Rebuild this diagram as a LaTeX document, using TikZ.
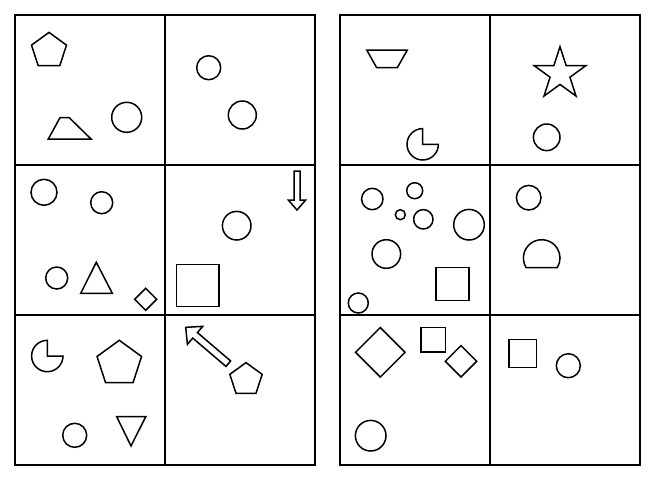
\documentclass[tikz,border=0pt]{standalone}
\usepackage{tikz}
\usetikzlibrary{shapes.geometric}
\tikzstyle{shp} = [draw, line width=1.5pt, inner sep=0pt, outer sep=0pt]
\tikzstyle{ring} = [shp, circle]
\tikzstyle{penta} = [shp, regular polygon, regular polygon sides=5]
\tikzstyle{starshp} = [shp, star, star points=5, star point ratio=2.618]
\tikzstyle{box} = [shp, rectangle]
\tikzstyle{rhomb} = [shp, diamond, aspect=1]
\tikzstyle{outline} = [line width=1.5pt]

\begin{document}
\begin{tikzpicture}[x=1pt,y=1pt,yscale=-1]
\useasboundingbox (0,0) rectangle (660,480);
% the two 3x3 boards
\foreach \gx in {15,340}{
  \draw[outline] (\gx,15) rectangle (\gx+300,465);
  \foreach \k in {1,2}{
    \draw[outline] (\gx+\k*150,15) -- (\gx+\k*150,465);
    \draw[outline] (\gx,15+\k*150) -- (\gx+300,15+\k*150);
  }
}
% circles
\foreach \cx/\cy/\r [count=\i] in {126.7/117.3/15, 208.7/67.7/12, 242.3/115/14,
    44/192.3/13, 101.7/202.7/11, 56.7/278/11, 236.7/225.7/14.3, 74.7/435.3/12,
    546.7/137.3/13.3, 372.3/199/10.7, 414.7/190.7/8, 400.3/214.7/5,
    423.3/219.3/9.7, 469/224.7/15.3, 386.3/254/14.3, 358.3/303/10,
    528.7/197.7/12.3, 370.7/435.7/15.3, 568.3/365.7/12}
  \node[ring, minimum size=2*\r] (ring-\i) at (\cx,\cy) {};
% pentagons
\foreach \cx/\cy/\r [count=\i] in {49/50.8/18.4, 119.3/363.7/23.4, 246/379.6/17}
  \node[penta, minimum size=2*\r] (penta-\i) at (\cx,\cy) {};
% squares
\foreach \cx/\cy/\s [count=\i] in {197.8/285.5/42.3, 452.5/284.2/33,
    433.2/339.8/24.5, 522.8/353.5/27.7}
  \node[box, minimum size=\s] (box-\i) at (\cx,\cy) {};
% diamonds
\foreach \cx/\cy/\s [count=\i] in {145.7/299.3/22, 380.3/352.3/49.5, 461/361.3/31.4}
  \node[rhomb, minimum size=\s] (rhomb-\i) at (\cx,\cy) {};
% star
\node[starshp, minimum size=54.6] (star-1) at (560,74) {};
% trapezia
\draw[outline] (48.3,139) -- (60,117.7) -- (69.3,117.7) -- (91,139) -- cycle;
\draw[outline] (366.7,50) -- (407.3,50) -- (397.3,67.7) -- (376.7,67.7) -- cycle;
% triangles
\draw[outline] (96.3,262.3) -- (112.3,293.3) -- (80.7,293.3) -- cycle;
\draw[outline] (116.7,416.7) -- (145.7,416.7) -- (131,446) -- cycle;
% pies with a missing quarter
\foreach \cx/\cy in {47.3/356, 422.7/144.3}
  \draw[outline] (\cx,\cy) -- ++(0,-15.7) arc[start angle=270, end angle=0, radius=15.7] -- cycle;
% dome
\draw[outline] (526.2,267.7) arc[start angle=148, end angle=392, radius=18.3] -- cycle;
% block arrows
\foreach \tx/\ty/\ang/\len/\hl/\hw/\sw in {297/171/90/39/10/8.7/3,
    228.3/363.7/220.5/56/12.3/11.8/3.6}
  \draw[outline, shift={(\tx,\ty)}, rotate=\ang] (0,-\sw) -- (\len-\hl,-\sw)
    -- (\len-\hl,-\hw) -- (\len,0) -- (\len-\hl,\hw) -- (\len-\hl,\sw) -- (0,\sw) -- cycle;
\end{tikzpicture}
\end{document}
